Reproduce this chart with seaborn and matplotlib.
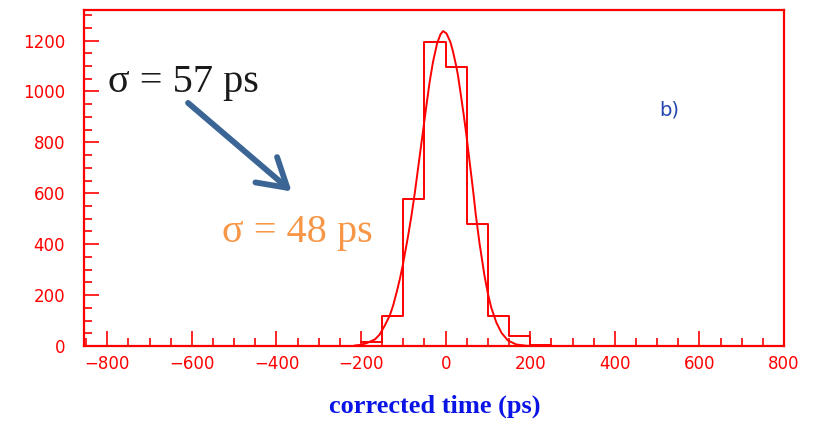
import numpy as np
import pandas as pd
import matplotlib
matplotlib.use("Agg")
import matplotlib.pyplot as plt
import seaborn as sns
from matplotlib.ticker import MultipleLocator

# ---- data ----
bin_edges = [-200, -150, -100, -50, 0, 50, 100, 150, 200, 250]
bin_counts = [15, 118, 579, 1196, 1096, 479, 118, 39, 4]

# Gaussian fit curve
fit_x = [-215, -203, -187, -167, -156, -144, -132, -124, -116, -108, -101, -89,
         -81, -73, -65, -57, -45, -38, -30, -20, -12, -6, 2, 11, 17, 25, 29,
         37, 43, 49, 57, 65, 71, 80, 92, 100, 108, 120, 132, 147, 167, 191, 205]
fit_y = [2, 4, 11, 26, 45, 80, 120, 160, 210, 265, 320, 430,
         510, 600, 700, 800, 950, 1035, 1115, 1190, 1225, 1237, 1228, 1195, 1160, 1100, 1065,
         975, 905, 830, 720, 610, 520, 405, 275, 205, 150, 92, 52, 22, 6, 1, 0]

x_ticks = [-800, -600, -400, -200, 0, 200, 400, 600, 800]
y_ticks = [0, 200, 400, 600, 800, 1000, 1200]

sigma_before = "σ = 57 ps"
sigma_after = "σ = 48 ps"
panel_label = "b)"
x_label = "corrected time (ps)"

# ---- figure ----
sns.set_style("white")
plt.rcParams["font.family"] = ["DejaVu Sans"]

W, H = 815, 423
fig = plt.figure(figsize=(W / 100, H / 100), dpi=100)
ax = fig.add_axes([84 / W, 1 - 346 / H, 700 / W, 336 / H])

bin_centers = [(a + b) / 2 for a, b in zip(bin_edges[:-1], bin_edges[1:])]
hist_df = pd.DataFrame({"time": bin_centers, "count": bin_counts})
sns.histplot(data=hist_df, x="time", weights="count", bins=bin_edges,
             element="step", fill=False, color="red", linewidth=1.4, ax=ax)

fit_df = pd.DataFrame({"time": fit_x, "fit": fit_y})
sns.lineplot(data=fit_df, x="time", y="fit", color="red", linewidth=1.4,
             ax=ax, sort=False)

ax.set_xlim(-855, 800)
ax.set_ylim(0, 1320)
ax.set_xticks(x_ticks)
ax.set_yticks(y_ticks)
ax.set_xticklabels([str(v).replace("-", "\u2212") for v in x_ticks])
ax.set_yticklabels([str(v) for v in y_ticks])
ax.xaxis.set_minor_locator(MultipleLocator(50))
ax.yaxis.set_minor_locator(MultipleLocator(50))

ax.tick_params(axis="both", which="both", direction="in", color="red",
               labelcolor="red", bottom=True, left=True, top=False, right=False)
ax.tick_params(axis="both", which="major", length=11, width=1.2, labelsize=12)
ax.tick_params(axis="both", which="minor", length=5.5, width=1.2)
ax.tick_params(axis="x", which="major", pad=6.5)
ax.tick_params(axis="y", which="major", pad=13.5)

for s in ax.spines.values():
    s.set_color("red")
    s.set_linewidth(1.6)

ax.set_ylabel("")
ax.set_xlabel(x_label, color="#0a14e6", fontweight="bold",
              fontfamily="Liberation Serif", fontsize=19)
ax.xaxis.label.set_va("center")
ax.xaxis.set_label_coords((435 - 84) / 700, (346 - 406) / 336)

ax.text(-619, 1035, sigma_before, color="#1a1a1a", fontsize=29,
        fontfamily="Liberation Serif", ha="center", va="center")
ax.text(-350, 445, sigma_after, color="#f79646", fontsize=29,
        fontfamily="Liberation Serif", ha="center", va="center")
ax.text(529, 928, panel_label, color="#2444b0", fontsize=14,
        ha="center", va="center")

ax.annotate("", xy=(-364, 607), xytext=(-609, 955),
            arrowprops=dict(arrowstyle="->,head_length=1.0,head_width=0.6",
                            lw=4.2, color="#3a6594", mutation_scale=20,
                            shrinkA=0, shrinkB=0))

fig.savefig("out.png", dpi=100, facecolor="white")
